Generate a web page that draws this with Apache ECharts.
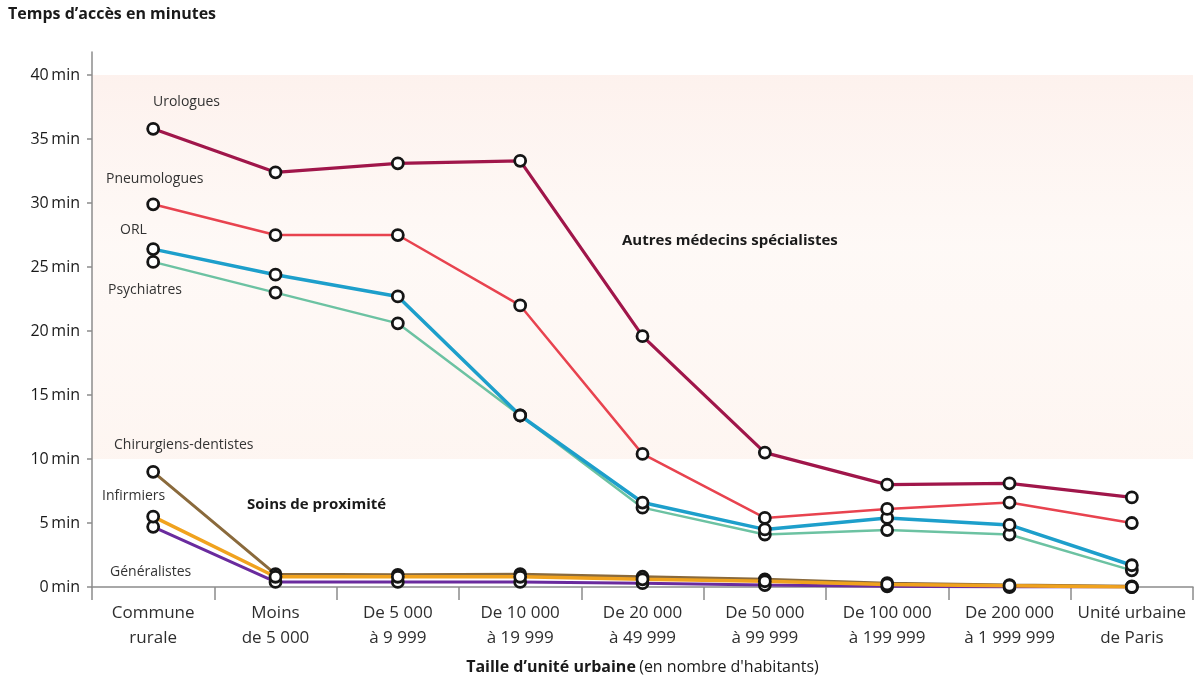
<!DOCTYPE html>
<html lang="fr">
<head>
<meta charset="utf-8">
<title>Temps d'accès en minutes</title>
<script src="https://cdn.jsdelivr.net/npm/echarts@6/dist/echarts.min.js"></script>
<style>
  html, body { margin: 0; padding: 0; background: #fff; }
  #chart { width: 1196px; height: 688px; }
</style>
</head>
<body>
<div id="chart"></div>
<script>
// Tailles d'unité urbaine (axe horizontal)
const categories = [
  'Commune\nrurale', 'Moins\nde 5 000', 'De 5 000\nà 9 999', 'De 10 000\nà 19 999',
  'De 20 000\nà 49 999', 'De 50 000\nà 99 999', 'De 100 000\nà 199 999',
  'De 200 000\nà 1 999 999', 'Unité urbaine\nde Paris'
];

// Graduations de l'axe vertical (minutes)
const yTicks = [0, 5, 10, 15, 20, 25, 30, 35, 40];

// Temps d'accès, en minutes — autres médecins spécialistes
const urologues    = [35.8, 32.4, 33.1, 33.3, 19.6, 10.5, 8.0, 8.1, 7.0];
const pneumologues = [29.9, 27.5, 27.5, 22.0, 10.4, 5.4, 6.1, 6.6, 5.0];
const orl          = [26.4, 24.4, 22.7, 13.4, 6.6, 4.5, 5.4, 4.85, 1.7];
const psychiatres  = [25.4, 23.0, 20.6, 13.4, 6.2, 4.1, 4.45, 4.1, 1.3];

// Temps d'accès, en minutes — soins de proximité
const dentistes    = [9.0, 1.0, 0.95, 1.0, 0.8, 0.6, 0.3, 0.15, 0.05];
const infirmiers   = [5.5, 0.8, 0.8, 0.8, 0.6, 0.45, 0.2, 0.1, 0.0];
const generalistes = [4.7, 0.4, 0.4, 0.4, 0.3, 0.15, 0.05, 0.0, 0.0];

// Bande de fond derrière les spécialistes (minutes)
const bandRange = [10, 40];

const FONT = '"Open Sans", "Noto Sans", sans-serif';

function lineSeries(name, data, color, width, z) {
  return {
    name: name,
    type: 'line',
    data: data,
    z: z,
    symbol: 'circle',
    symbolSize: 11,
    showAllSymbol: true,
    lineStyle: { color: color, width: width },
    itemStyle: { color: '#ffffff', borderColor: '#151515', borderWidth: 2.8 },
    emphasis: { disabled: true }
  };
}

function label(text, left, top, font) {
  return { type: 'text', left: left, top: top, z: 100, style: { text: text, font: font, fill: '#333' } };
}

const chart = echarts.init(document.getElementById('chart'), null, { renderer: 'canvas' });

chart.setOption({
  animation: false,
  backgroundColor: '#ffffff',
  grid: { left: 92, right: 3, top: 52, bottom: 101, containLabel: false },
  xAxis: {
    type: 'category',
    data: categories,
    boundaryGap: true,
    axisLine: { lineStyle: { color: '#8c8c8c', width: 1.5 } },
    axisTick: { show: true, length: 13, alignWithLabel: false, lineStyle: { color: '#8c8c8c', width: 1.5 } },
    axisLabel: {
      interval: 0, margin: 14, fontFamily: FONT, fontSize: 17, lineHeight: 25,
      color: '#2e2e2e', align: 'center'
    },
    name: '{b|Taille d\u2019unité urbaine} {n|(en nombre d\'habitants)}',
    nameLocation: 'middle',
    nameGap: 72,
    nameTextStyle: {
      rich: {
        b: { fontFamily: FONT, fontSize: 16, fontWeight: 'bold', color: '#1a1a1a' },
        n: { fontFamily: FONT, fontSize: 16, color: '#1a1a1a' }
      }
    }
  },
  yAxis: {
    type: 'value',
    min: 0,
    max: 41.8,
    splitLine: { show: false },
    axisLine: { show: true, lineStyle: { color: '#8c8c8c', width: 1.5 } },
    axisTick: { show: true, length: 5, customValues: yTicks, lineStyle: { color: '#8c8c8c', width: 1.5 } },
    axisLabel: {
      customValues: yTicks,
      margin: 12, fontFamily: FONT, fontSize: 16, color: '#1a1a1a',
      formatter: function (v) { return v + '\u2009min'; }
    }
  },
  graphic: [
    { type: 'text', left: 8, top: 6, z: 100, style: { text: 'Temps d\u2019accès en minutes', font: 'bold 16px ' + FONT, fill: '#1a1a1a' } },
    label('Urologues', 153, 95, '14px ' + FONT),
    label('Pneumologues', 106, 172, '14px ' + FONT),
    label('ORL', 120, 223, '14px ' + FONT),
    label('Psychiatres', 108, 283, '14px ' + FONT),
    label('Chirurgiens-dentistes', 114, 438, '14px ' + FONT),
    label('Infirmiers', 102, 489, '14px ' + FONT),
    label('Généralistes', 110, 565, '14px ' + FONT),
    { type: 'text', left: 622, top: 233, z: 100, style: { text: 'Autres médecins spécialistes', font: 'bold 15px ' + FONT, fill: '#1a1a1a' } },
    { type: 'text', left: 247, top: 497, z: 100, style: { text: 'Soins de proximité', font: 'bold 15px ' + FONT, fill: '#1a1a1a' } }
  ],
  series: [
    Object.assign(lineSeries('Chirurgiens-dentistes', dentistes, '#8a6a3c', 3, 2), {
      markArea: {
        silent: true,
        z: 0,
        itemStyle: {
          color: {
            type: 'linear', x: 0, y: 0, x2: 0, y2: 1,
            colorStops: [
              { offset: 0, color: 'rgba(251,228,220,0.5)' },
              { offset: 0.45, color: 'rgba(253,240,233,0.4)' },
              { offset: 1, color: 'rgba(252,234,225,0.45)' }
            ]
          }
        },
        data: [[{ yAxis: bandRange[0] }, { yAxis: bandRange[1] }]]
      }
    }),
    lineSeries('Généralistes', generalistes, '#6a2b9e', 3, 3),
    lineSeries('Infirmiers', infirmiers, '#f0a21e', 3.5, 4),
    lineSeries('Psychiatres', psychiatres, '#6cc2a2', 2.5, 5),
    lineSeries('ORL', orl, '#1d9fcb', 3.5, 6),
    lineSeries('Pneumologues', pneumologues, '#e8434f', 2.5, 7),
    lineSeries('Urologues', urologues, '#a0164a', 3.2, 8)
  ]
});
</script>
</body>
</html>
